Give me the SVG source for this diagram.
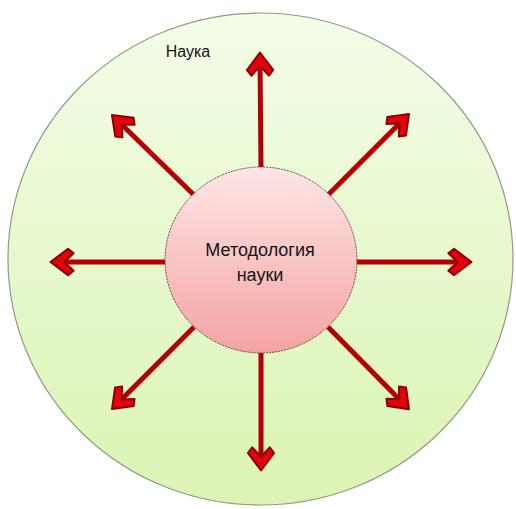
<svg xmlns="http://www.w3.org/2000/svg" width="516" height="509" viewBox="0 0 516 509">
<defs>
<linearGradient id="gOuter" x1="0" y1="0" x2="0" y2="1">
<stop offset="0" stop-color="#f3fce8"/>
<stop offset="1" stop-color="#dbf4b3"/>
</linearGradient>
<linearGradient id="gInner" x1="0" y1="0" x2="0" y2="1">
<stop offset="0" stop-color="#fde6e6"/>
<stop offset="1" stop-color="#f4a3a3"/>
</linearGradient>
<marker id="ah" markerUnits="userSpaceOnUse" markerWidth="40" markerHeight="40" viewBox="-26 -16 32 32" refX="-6" refY="0" orient="auto" overflow="visible">
<path d="M0,0 L-14,-10.5 L-18.5,-7 L-11,0 L-18.5,7 L-14,10.5 Z" fill="#e4000c" stroke="#8a0000" stroke-width="1.6" stroke-linejoin="round"/>
</marker>
<style>
.arr{stroke:#b50005;stroke-width:5;fill:none;marker-end:url(#ah)}
.lbl{font-family:"Liberation Sans","Open Sans",sans-serif;fill:#141414;text-anchor:middle}
</style>
</defs>
<rect width="516" height="509" fill="#ffffff"/>
<g id="nauka">
<ellipse cx="260.5" cy="259" rx="252.5" ry="246" fill="url(#gOuter)" stroke="#8f9c86" stroke-width="1.2"/>
<text class="lbl" x="188" y="57" font-size="16">Наука</text>
</g>
<g id="connectors">
<line class="arr" x1="261" y1="168" x2="260" y2="60"/>
<line class="arr" x1="261" y1="352" x2="261" y2="463"/>
<line class="arr" x1="166" y1="262" x2="58" y2="262"/>
<line class="arr" x1="356" y1="262" x2="464" y2="262"/>
<line class="arr" x1="194" y1="195" x2="117.3" y2="120.2"/>
<line class="arr" x1="328" y1="195" x2="403.7" y2="119.2"/>
<line class="arr" x1="194" y1="327" x2="117.3" y2="403.8"/>
<line class="arr" x1="328" y1="327" x2="403.7" y2="403.8"/>
</g>
<g id="metodologiya">
<ellipse cx="261" cy="260" rx="96" ry="93" fill="url(#gInner)" stroke="#5a3a3a" stroke-width="0.9" stroke-dasharray="2 1"/>
<text class="lbl" x="260" y="256" font-size="18">Методология</text>
<text class="lbl" x="260" y="281" font-size="18">науки</text>
</g>
</svg>
